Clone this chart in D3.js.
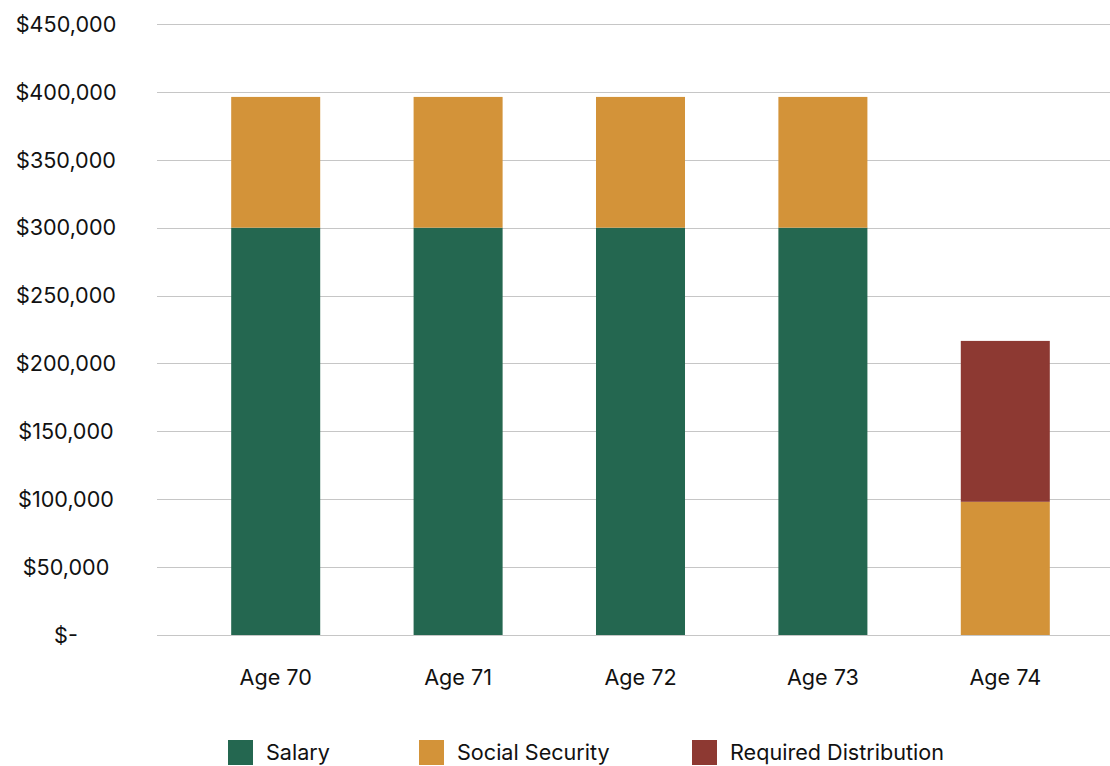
<!DOCTYPE html>
<html>
<head>
<meta charset="utf-8">
<script src="https://cdn.jsdelivr.net/npm/d3@7"></script>
<style>
  body { margin: 0; background: #fff; }
  text { font-family: Inter, "Open Sans", sans-serif; fill: #111; }
</style>
</head>
<body>
<div id="chart"></div>
<script>
const ages = ['Age 70', 'Age 71', 'Age 72', 'Age 73', 'Age 74']
const salary = [300000, 300000, 300000, 300000, 0]
const socialSecurity = [96300, 96300, 96300, 96300, 98100]
const requiredDistribution = [0, 0, 0, 0, 118500]
const yTicks = [0, 50000, 100000, 150000, 200000, 250000, 300000, 350000, 400000, 450000]

const seriesNames = ['Salary', 'Social Security', 'Required Distribution']
const colors = ['#246750', '#D39339', '#8D3932']

const W = 1110, H = 766
const PLOT = { LEFT: 157, RIGHT: 1110, TOP: 24, BOTTOM: 635 }
const FONT = '21.6px'

const svg = d3.select('#chart')
  .append('svg')
    .attr('width', W)
    .attr('height', H)

const y = d3.scaleLinear()
  .domain([0, 450000])
  .range([PLOT.BOTTOM, PLOT.TOP])

const x = d3.scaleBand()
  .domain(ages)
  .range([184.5, 1096.5])
  .paddingInner(0.512)
  .paddingOuter(0.256)

// gridlines
svg.append('g')
  .selectAll('line')
  .data(yTicks)
  .enter().append('line')
    .attr('x1', PLOT.LEFT)
    .attr('x2', PLOT.RIGHT)
    .attr('y1', d => Math.round(y(d)) + 0.5)
    .attr('y2', d => Math.round(y(d)) + 0.5)
    .attr('stroke', '#c6c6c6')
    .attr('stroke-width', 1)

// y labels
const fmt = d => d === 0 ? '$-' : '$' + d3.format(',')(d)
svg.append('g')
  .selectAll('text')
  .data(yTicks)
  .enter().append('text')
    .attr('x', 66)
    .attr('y', d => y(d))
    .attr('dy', '0.36em')
    .attr('text-anchor', 'middle')
    .style('font-size', FONT)
    .text(fmt)

// stacked bars
const rows = ages.map((a, i) => ({
  age: a,
  'Salary': salary[i],
  'Social Security': socialSecurity[i],
  'Required Distribution': requiredDistribution[i]
}))
const stacked = d3.stack().keys(seriesNames)(rows)

svg.append('g')
  .selectAll('g')
  .data(stacked)
  .enter().append('g')
    .attr('fill', (d, i) => colors[i])
  .selectAll('rect')
  .data(d => d.filter(s => s[1] - s[0] > 0))
  .enter().append('rect')
    .attr('x', d => x(d.data.age))
    .attr('width', x.bandwidth())
    .attr('y', d => y(d[1]))
    .attr('height', d => y(d[0]) - y(d[1]))

// x labels
svg.append('g')
  .selectAll('text')
  .data(ages)
  .enter().append('text')
    .attr('x', d => x(d) + x.bandwidth() / 2)
    .attr('y', 685)
    .attr('text-anchor', 'middle')
    .style('font-size', FONT)
    .text(d => d)

// legend
const legendX = [228, 419, 692]
const legend = svg.append('g')
  .selectAll('g')
  .data(seriesNames)
  .enter().append('g')
    .attr('transform', (d, i) => `translate(${legendX[i]}, 740)`)

legend.append('rect')
  .attr('width', 25)
  .attr('height', 25)
  .attr('fill', (d, i) => colors[i])

legend.append('text')
  .attr('x', 38)
  .attr('y', 12.5)
  .attr('dy', '0.36em')
  .style('font-size', FONT)
  .text(d => d)
</script>
</body>
</html>
